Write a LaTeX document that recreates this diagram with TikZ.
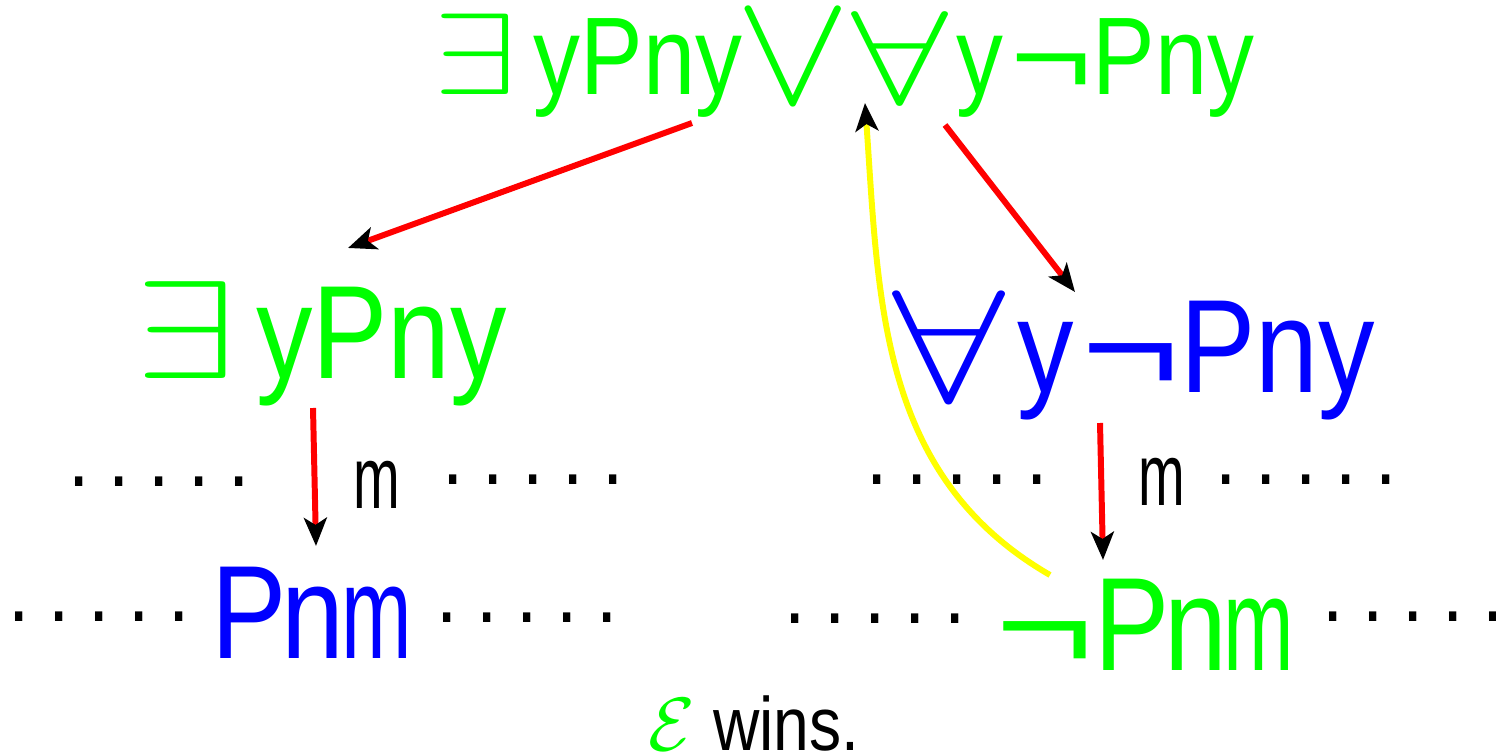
\documentclass[tikz,border=0pt]{standalone}
\usepackage{fix-cm}
\usepackage{fontspec}
\setmainfont{Liberation Sans}[FakeStretch=0.85]
\usepackage{tikz}
\usetikzlibrary{arrows.meta, positioning}
\definecolor{mygreen}{RGB}{0,255,0}
\definecolor{myblue}{RGB}{0,0,255}
\definecolor{myred}{RGB}{255,0,0}
\definecolor{myyellow}{RGB}{255,255,0}
\newcommand{\fex}{\scalebox{1.36}[1.05]{$\exists$}}
\newcommand{\fall}[1][1.53]{\raisebox{-0.075em}{\scalebox{#1}[1.2]{$\forall$}}}
\newcommand{\fvee}{\raisebox{-0.075em}{\scalebox{1.57}[1.48]{$\vee$}}}
\newcommand{\fneg}{\scalebox{1.5}[1]{¬}}
\newcommand{\fm}{\scalebox{0.75}[1]{m}}
\newcommand{\fpnm}{P\kern-1.5pt n\kern-1pt\fm}
\newcommand{\dotline}{.\kern5.3pt.\kern5.3pt.\kern5.3pt.\kern5.3pt.}
\tikzset{
  formula/.style={inner sep=0pt, anchor=base west},
  topf/.style={formula, font=\fontsize{31.4}{34}\selectfont},
  bigf/.style={formula, font=\fontsize{37.8}{40}\selectfont},
  lbl/.style={formula, font=\fontsize{25}{28}\selectfont},
  dotrow/.style={formula, font=\fontsize{25.6}{28}\selectfont},
  hop/.style={draw=myred, line width=1.7pt,
    -{Stealth[length=8pt, width=6.5pt, inset=2pt, black]}},
  back/.style={draw=myyellow, line width=1.7pt,
    -{Stealth[length=8pt, width=6.5pt, inset=2pt, black]}}
}
\begin{document}
\begin{tikzpicture}
  \useasboundingbox (0,0) rectangle (14.96,7.53);

  % formulas
  \node[topf, text=mygreen] (disj) at (4.33,6.58)
    {\fex\kern0.15em yPny\kern-1.9pt\fvee\fall[1.58]\kern2.5pt y\kern2pt\fneg Pny};
  \node[bigf, text=mygreen] (exs) at (1.35,3.75) {\fex\kern0.15em yPny};
  \node[bigf, text=myblue] (alls) at (8.92,3.61) {\fall\kern3.4pt y\kern2pt\fneg Pny};
  \node[bigf, text=myblue] (pnm) at (2.11,0.95) {\fpnm};
  \node[bigf, text=mygreen] (npnm) at (9.95,0.83) {\fneg\fpnm};

  % choices
  \node[lbl] (mL) at (3.53,2.45) {\fm};
  \node[lbl] (mR) at (11.38,2.48) {\fm};

  % dots
  \node[dotrow] (dA) at (0.68,2.665) {\dotline};
  \node[dotrow] (dB) at (4.42,2.685) {\dotline};
  \node[dotrow] (dC) at (0.08,1.32) {\dotline};
  \node[dotrow] (dD) at (4.36,1.31) {\dotline};
  \node[dotrow] (dE) at (8.66,2.685) {\dotline};
  \node[dotrow] (dF) at (12.15,2.685) {\dotline};
  \node[dotrow] (dG) at (7.84,1.30) {\dotline};
  \node[dotrow] (dH) at (13.22,1.32) {\dotline};

  \node[formula, font=\fontsize{21.5}{23}\selectfont] (wins) at (6.48,0.03)
    {\textcolor{mygreen}{$\mathcal{E}$} wins.};

  % arrow ends
  \coordinate (disjL) at (6.92,6.30);
  \coordinate (disjR) at (9.45,6.28);
  \coordinate (disjB) at (8.65,6.50);
  \coordinate (exsT) at (3.48,5.05);
  \coordinate (exsB) at (3.13,3.45);
  \coordinate (allsT) at (10.75,4.61);
  \coordinate (allsB) at (11.00,3.30);
  \coordinate (pnmT) at (3.16,2.07);
  \coordinate (npnmT) at (11.03,1.93);
  \coordinate (npnmL) at (10.50,1.78);

  \draw[hop] (disjL) -- (exsT);
  \draw[hop] (disjR) -- (allsT);
  \draw[hop] (exsB) -- (pnmT);
  \draw[hop] (allsB) -- (npnmT);
  \draw[back] (npnmL) to[out=150, in=-86] (disjB);
\end{tikzpicture}
\end{document}
